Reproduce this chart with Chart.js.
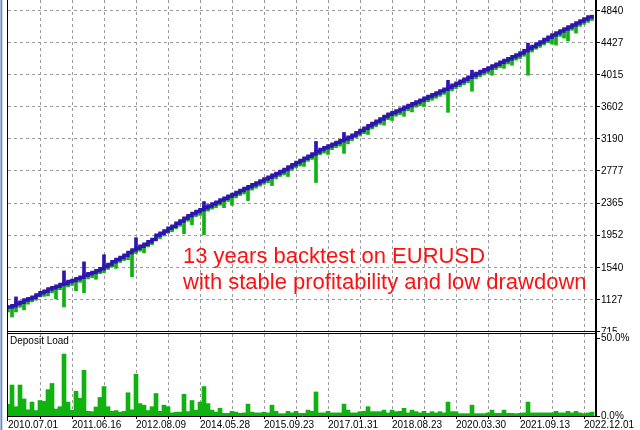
<!DOCTYPE html>
<html><head><meta charset="utf-8">
<script src="https://cdn.jsdelivr.net/npm/chart.js@4.4.1/dist/chart.umd.min.js"></script>
<style>
html,body{margin:0;padding:0;background:#fff;}
#wrap{position:relative;width:640px;height:430px;overflow:hidden;background:#fff;}
canvas{position:absolute;left:0;}
#main{top:0;}
#sub{top:332px;background:#fff;z-index:2;}
.ln{position:absolute;z-index:3;background:#000;}
#frame{position:absolute;left:0;top:0;width:3px;height:430px;z-index:3;background:linear-gradient(to right,#a7bbe0 0,#a7bbe0 1px,#6f8bc3 1px,#6f8bc3 2px,#cfd9ec 2px);}
#dl{position:absolute;left:10px;top:335px;z-index:3;font:10px 'Liberation Sans',Arial,sans-serif;line-height:12px;color:#000;}
#note{position:absolute;left:183px;top:243px;z-index:3;font:22px 'Liberation Sans',Arial,sans-serif;line-height:26px;color:#ff1010;white-space:nowrap;}
</style></head>
<body>
<div id="wrap">
<canvas id="main" width="640" height="345"></canvas>
<canvas id="sub" width="640" height="98"></canvas>
<div id="frame"></div>
<div class="ln" style="left:7px;top:0;width:1px;height:421px;"></div>
<div class="ln" style="left:7px;top:333px;width:590px;height:1px;"></div>
<div class="ln" style="left:595px;top:330px;width:2px;height:5px;"></div>
<div id="dl">Deposit Load</div>
<div id="note">13 years backtest on EURUSD<br>with stable profitability and low drawdown</div>
</div>
<script>
// ---- data ----
const balance = [
1024,1040,1068,1085,1112,1130,1150,1178,1205,1226,
1255,1272,1290,1312,1325,1350,1365,1388,1405,1430,
1452,1468,1490,1514,1545,1570,1606,1634,1660,1690,
1725,1755,1778,1805,1830,1862,1890,1945,1970,2000,
2035,2062,2100,2130,2165,2195,2225,2250,2272,2300,
2322,2348,2370,2398,2420,2445,2470,2495,2520,2545,
2568,2595,2618,2642,2668,2690,2715,2740,2765,2790,
2822,2850,2880,2905,2935,2962,2990,3020,3048,3070,
3092,3115,3138,3160,3182,3205,3229,3262,3290,3322,
3352,3380,3410,3440,3470,3499,3520,3542,3565,3590,
3612,3635,3658,3680,3705,3728,3752,3775,3800,3823,
3847,3872,3898,3925,3950,3975,4002,4025,4050,4072,
4095,4120,4143,4168,4190,4215,4238,4262,4286,4315,
4345,4372,4402,4430,4460,4490,4518,4545,4570,4596,
4622,4648,4673,4698,4724,4750,4775];
const equity = [
960,895,960,1020,986,1060,1089,1110,1153,1160,
1166,1205,1127,1245,1024,1282,1300,1231,1340,1205,
1385,1400,1380,1450,1463,1505,1540,1520,1595,1620,
1630,1411,1710,1740,1720,1795,1824,1880,1900,1935,
1970,1990,2030,2060,1965,2125,2081,2185,2200,1952,
2255,2280,2300,2330,2300,2380,2330,2425,2455,2475,
2391,2525,2550,2575,2600,2620,2584,2670,2700,2720,
2700,2780,2810,2835,2830,2895,2920,2623,2980,3000,
2984,3045,3070,3090,2997,3120,3160,3195,3220,3250,
3241,3310,3340,3370,3360,3430,3420,3475,3495,3474,
3545,3530,3590,3610,3600,3660,3680,3705,3730,3755,
3525,3800,3830,3855,3880,3905,3796,3955,3980,4005,
4025,4002,4075,4100,4090,4145,4130,4195,4215,4245,
4002,4300,4335,4360,4390,4420,4402,4389,4500,4479,
4441,4580,4543,4630,4655,4680,4705];
const balanceSpikeIndex = [2,14,19,24,32,49,77,84,110,116,130];
const balanceSpikeTop = [1153,1488,1604,1695,1914,2378,3151,3267,3937,4066,4414];
const depositLoad = [
7.5,20,6,20,11,4,9,3.5,10,9.5,
17,21,4.5,6,40,9,3.8,16,11.5,29.5,
3,2.8,5.8,12,19,6,3,3.5,2.5,3,
15,4,27,8,7,3.5,6,14.5,3,7,
6,2,2.5,2.5,14,2.8,10,3.8,9,19,
8,3.8,2.5,5,1.7,1.7,3,2.5,1.7,2,
7.7,2.5,2,2,2.5,2,7,3,1.5,1.5,
3,2,3,1.7,1.7,3.8,3,15.5,2,2,
3,2,2,2,7.7,3.8,2,2,2.8,3,
6,2.8,2.8,2.8,3.8,2,3.8,2.8,3,5,
2,3.8,2.8,2,3,1.7,2.8,2,2.8,2,
9,2.8,2.8,1.5,1.5,1.5,7,1.5,1.5,1.5,
2,3.8,1.7,1.7,3.8,1.7,1.7,1.5,1.7,2,
9,2,2,2,2,2,2,3,2,2,
3,2,3,2,1.5,2,2.5];
const dateLabels = ['2010.07.01','2011.06.16','2012.08.09','2014.05.28','2015.09.23','2017.01.31','2018.08.23','2020.03.30','2021.09.13','2022.12.01'];
const dateTickIndex = [0,16,32,48,64,80,96,112,128,144];
const gridTicks = [0,8,16,24,32,40,48,56,64,72,80,88,96,104,112,120,128,136,144];
const yTickValues = [715,1127.5,1540,1952.5,2365,2777.5,3190,3602.5,4015,4427.5,4840];
const yTickLabels = ['715','1127','1540','1952','2365','2777','3190','3602','4015','4427','4840'];
const loadTickValues = [0,50];
const loadTickLabels = ['0.0%','50.0%'];

// ---- styling ----
const FONT = "'Liberation Sans',Arial,sans-serif";
const GRID = '#9c9c9c';
const BLUE = '#2f13b3';
const GREEN = '#0fb20f';

// dashed grid under the marks + small tick marks, placed with the chart's own scales
const mtGrid = {
  id: 'mtGrid',
  beforeDatasetsDraw(chart, args, opts) {
    const ctx = chart.ctx, a = chart.chartArea, xs = chart.scales.x, ys = chart.scales.y;
    ctx.save();
    ctx.fillStyle = GRID;
    const top = Math.round(a.top), bot = Math.round(a.bottom);
    const left = Math.round(a.left), right = Math.round(a.right);
    xs.ticks.forEach(t => {
      if (t.value === 0) return;
      const px = Math.round(xs.getPixelForValue(t.value));
      for (let y = top; y < bot; y += 6) ctx.fillRect(px, y, 1, Math.min(3, bot - y));
    });
    if (opts.horizontal) {
      ys.ticks.forEach(t => {
        const py = Math.round(ys.getPixelForValue(t.value));
        if (py >= bot) return;
        for (let x = left; x < right - 1; x += 6) ctx.fillRect(x, py, Math.min(3, right - 1 - x), 1);
      });
    }
    ctx.restore();
  },
  afterDraw(chart, args, opts) {
    const ctx = chart.ctx, a = chart.chartArea, xs = chart.scales.x, ys = chart.scales.y;
    ctx.save();
    ctx.fillStyle = '#000';
    ys.ticks.forEach(t => {
      const py = Math.round(ys.getPixelForValue(t.value));
      ctx.fillRect(Math.round(a.right) + 1, py, 3, 1);
    });
    if (opts.xTicks) {
      xs.ticks.forEach(t => {
        const px = Math.round(xs.getPixelForValue(t.value)) - (t.value === 0 ? 1 : 0);
        ctx.fillRect(px, Math.round(a.bottom), 1, 3);
      });
    }
    ctx.restore();
  }
};

new Chart(document.getElementById('main'), {
  type: 'bar',
  plugins: [mtGrid],
  data: {
    datasets: [
      {type:'line', order:0, data: balance.map((b,i)=>({x:i,y:b})), borderColor:BLUE, borderWidth:3.5,
       stepped:true, pointRadius:0, fill:false, borderCapStyle:'butt'},
      {type:'bar', order:1, grouped:false, data: balanceSpikeIndex.map((ix,k)=>({x:ix,y:[balance[ix],balanceSpikeTop[k]]})),
       backgroundColor:BLUE, barThickness:3},
      {type:'bar', order:2, grouped:false, data: equity.map((e,i)=>({x:i,y:[e,balance[i]]})),
       backgroundColor:GREEN, barThickness:3}
    ]
  },
  options: {
    responsive:false, animation:false, devicePixelRatio:1,
    layout:{padding:{left:8,right:0,top:0,bottom:0}},
    plugins:{legend:{display:false}, tooltip:{enabled:false}, mtGrid:{horizontal:true, xTicks:false}},
    scales:{
      x:{type:'linear', min:0, max:147, offset:false,
         afterBuildTicks: s => { s.ticks = gridTicks.map(v=>({value:v})); },
         afterFit: s => { s.height = 14; s.paddingLeft = 0; s.paddingRight = 0; },
         ticks:{display:false},
         grid:{display:false, offset:false},
         border:{display:true, color:'#000', width:1}},
      y:{type:'linear', position:'right', min:715, max:4968.5,
         afterBuildTicks: s => { s.ticks = yTickValues.map(v=>({value:v})); },
         afterFit: s => { s.width = 44; s.paddingTop = 0; s.paddingBottom = 0; },
         ticks:{color:'#000', font:{family:FONT,size:10}, padding:5, labelOffset:1, callback:(v,i)=>yTickLabels[i]},
         grid:{display:false, drawTicks:false},
         border:{display:true, color:'#000', width:2}}
    }
  }
});

new Chart(document.getElementById('sub'), {
  type: 'bar',
  plugins: [mtGrid],
  data: {
    datasets: [
      {data: depositLoad.map((v,i)=>({x:i,y:v})), backgroundColor:GREEN, barPercentage:1, categoryPercentage:1, grouped:false}
    ]
  },
  options: {
    responsive:false, animation:false, devicePixelRatio:1,
    layout:{padding:{left:8,right:0,top:2,bottom:0}},
    plugins:{legend:{display:false}, tooltip:{enabled:false}, mtGrid:{horizontal:false, xTicks:true}},
    scales:{
      x:{type:'linear', min:0, max:147, offset:false,
         afterBuildTicks: s => { s.ticks = gridTicks.map(v=>({value:v})); },
         afterFit: s => { s.height = 14; s.paddingLeft = 0; s.paddingRight = 0; },
         ticks:{autoSkip:false, maxRotation:0, minRotation:0, align:'start', padding:3, color:'#000',
                font:{family:FONT,size:10},
                callback: v => { const k = dateTickIndex.indexOf(v); return k >= 0 ? dateLabels[k] : ''; }},
         grid:{display:false, drawTicks:false, offset:false},
         border:{display:true, color:'#000', width:1}},
      y:{type:'linear', position:'right', min:0, max:52.9,
         afterBuildTicks: s => { s.ticks = loadTickValues.map(v=>({value:v})); },
         afterFit: s => { s.width = 44; s.paddingTop = 0; s.paddingBottom = 0; },
         ticks:{color:'#000', font:{family:FONT,size:10}, padding:5, callback:(v,i)=>loadTickLabels[i]},
         grid:{display:false, drawTicks:false},
         border:{display:true, color:'#000', width:2}}
    }
  }
});
</script>
</body></html>
